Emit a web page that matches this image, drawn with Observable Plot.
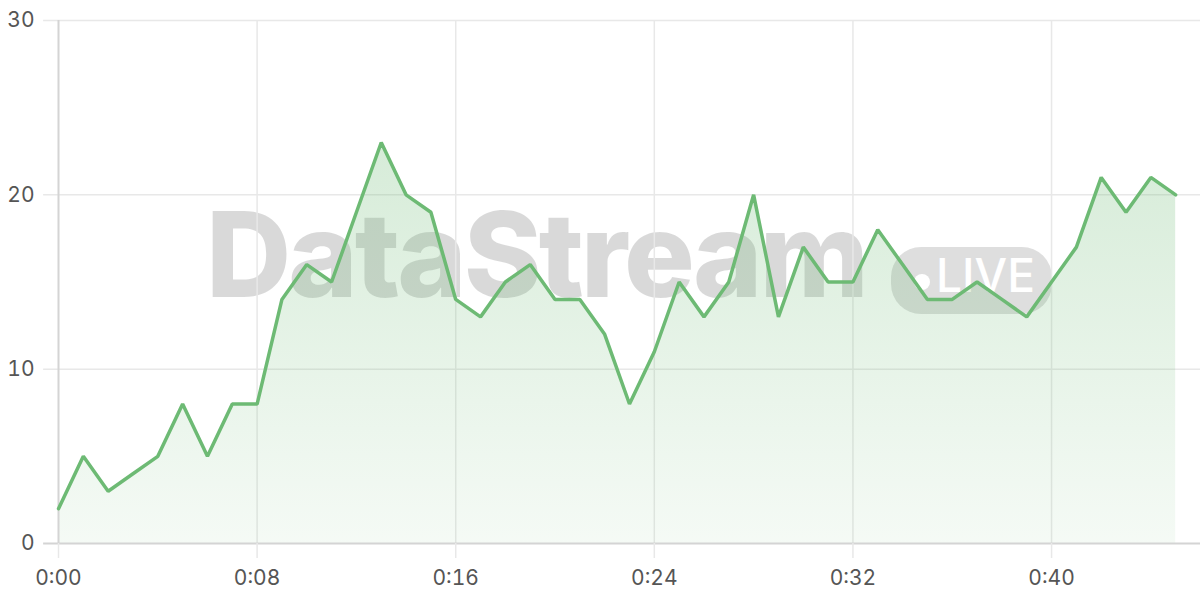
<!DOCTYPE html>
<html>
<head>
<meta charset="utf-8">
<script src="https://cdn.jsdelivr.net/npm/d3@7"></script>
<script src="https://cdn.jsdelivr.net/npm/@observablehq/plot@0.6"></script>
<style>
  html, body { margin: 0; padding: 0; background: #fff; }
  #wrap { position: relative; width: 1200px; height: 600px; }
  #wm { position: absolute; left: 0; top: 0; width: 1200px; height: 600px; z-index: 0; pointer-events: none; }
  #wm .name { position: absolute; left: 206px; top: 195px; font-family: Inter, "Open Sans", sans-serif; font-weight: 800; font-size: 118px; letter-spacing: -3px; color: rgba(0,0,0,0.15); line-height: 1; }
  #wm .pill { position: absolute; left: 891px; top: 247px; width: 161px; height: 67px; border-radius: 30px; background: rgba(0,0,0,0.13); }
  #wm .dot { position: absolute; left: 914px; top: 274px; width: 16px; height: 16px; border-radius: 50%; background: #fff; }
  #wm .live { position: absolute; left: 936px; top: 252px; font-family: Inter, sans-serif; font-weight: 500; font-size: 46px; color: #fff; line-height: 1; }
  #chart { position: relative; z-index: 1; }
  #chart svg { background: transparent !important; }
</style>
</head>
<body>
<div id="wrap">
  <div id="wm"><div class="name">DataStream</div><div class="pill"></div><div class="dot"></div><div class="live">LIVE</div></div>
  <div id="chart"></div>
</div>
<script>
const seconds = d3.range(0, 46);
const values = [2,5,3,4,5,8,5,8,8,14,16,15,19,23,20,19,14,13,15,16,14,14,12,8,11,15,13,15,20,13,17,15,15,18,16,14,14,15,14,13,15,17,21,19,21,20];
const xTicks = [0, 8, 16, 24, 32, 40];
const yTicks = [0, 10, 20, 30];
const fmt = d => `0:${String(d).padStart(2, "0")}`;

const data = seconds.map((s, i) => ({t: s, v: values[i]}));

const plot = Plot.plot({
  width: 1200,
  height: 600,
  marginLeft: 58,
  marginRight: 0,
  marginTop: 20,
  marginBottom: 57,
  style: {fontFamily: "Inter, sans-serif", fontSize: "21px", color: "#555", background: "transparent"},
  x: {domain: [0, 46], ticks: xTicks, tickFormat: fmt, label: null},
  y: {domain: [0, 30], ticks: yTicks, label: null},
  marks: [
    Plot.ruleY(yTicks.filter(d => d > 0), {stroke: "#e8e8e8", strokeWidth: 1.5, x1: -0.6, x2: 46}),
    Plot.ruleX(xTicks.filter(d => d > 0), {stroke: "#e8e8e8", strokeWidth: 1.5}),
    Plot.areaY(data, {x: "t", y: "v", fill: "url(#areaGrad)"}),
    Plot.ruleY([0], {stroke: "#d4d4d4", strokeWidth: 2, x1: -0.6, x2: 46}),
    Plot.ruleX([0], {stroke: "#d4d4d4", strokeWidth: 2}),
    Plot.axisX({ticks: xTicks, tickFormat: fmt, tickSize: 15, tickPadding: 12, stroke: "#e8e8e8", strokeWidth: 1.5, fill: "#555", fontSize: 21, label: null}),
    Plot.axisY({ticks: yTicks, tickSize: 0, tickPadding: 24, fill: "#555", fontSize: 21, label: null}),
    Plot.lineY(data, {x: "t", y: "v", stroke: "#6dba74", strokeWidth: 3.5, strokeLinejoin: "miter"})
  ]
});

const svg = d3.select(plot);
const defs = svg.insert("defs", ":first-child");
const g = defs.append("linearGradient").attr("id", "areaGrad").attr("x1", 0).attr("y1", 0).attr("x2", 0).attr("y2", 1);
g.append("stop").attr("offset", "0%").attr("stop-color", "#6dba74").attr("stop-opacity", 0.28);
g.append("stop").attr("offset", "100%").attr("stop-color", "#6dba74").attr("stop-opacity", 0.07);

document.getElementById("chart").appendChild(plot);
</script>
</body>
</html>
